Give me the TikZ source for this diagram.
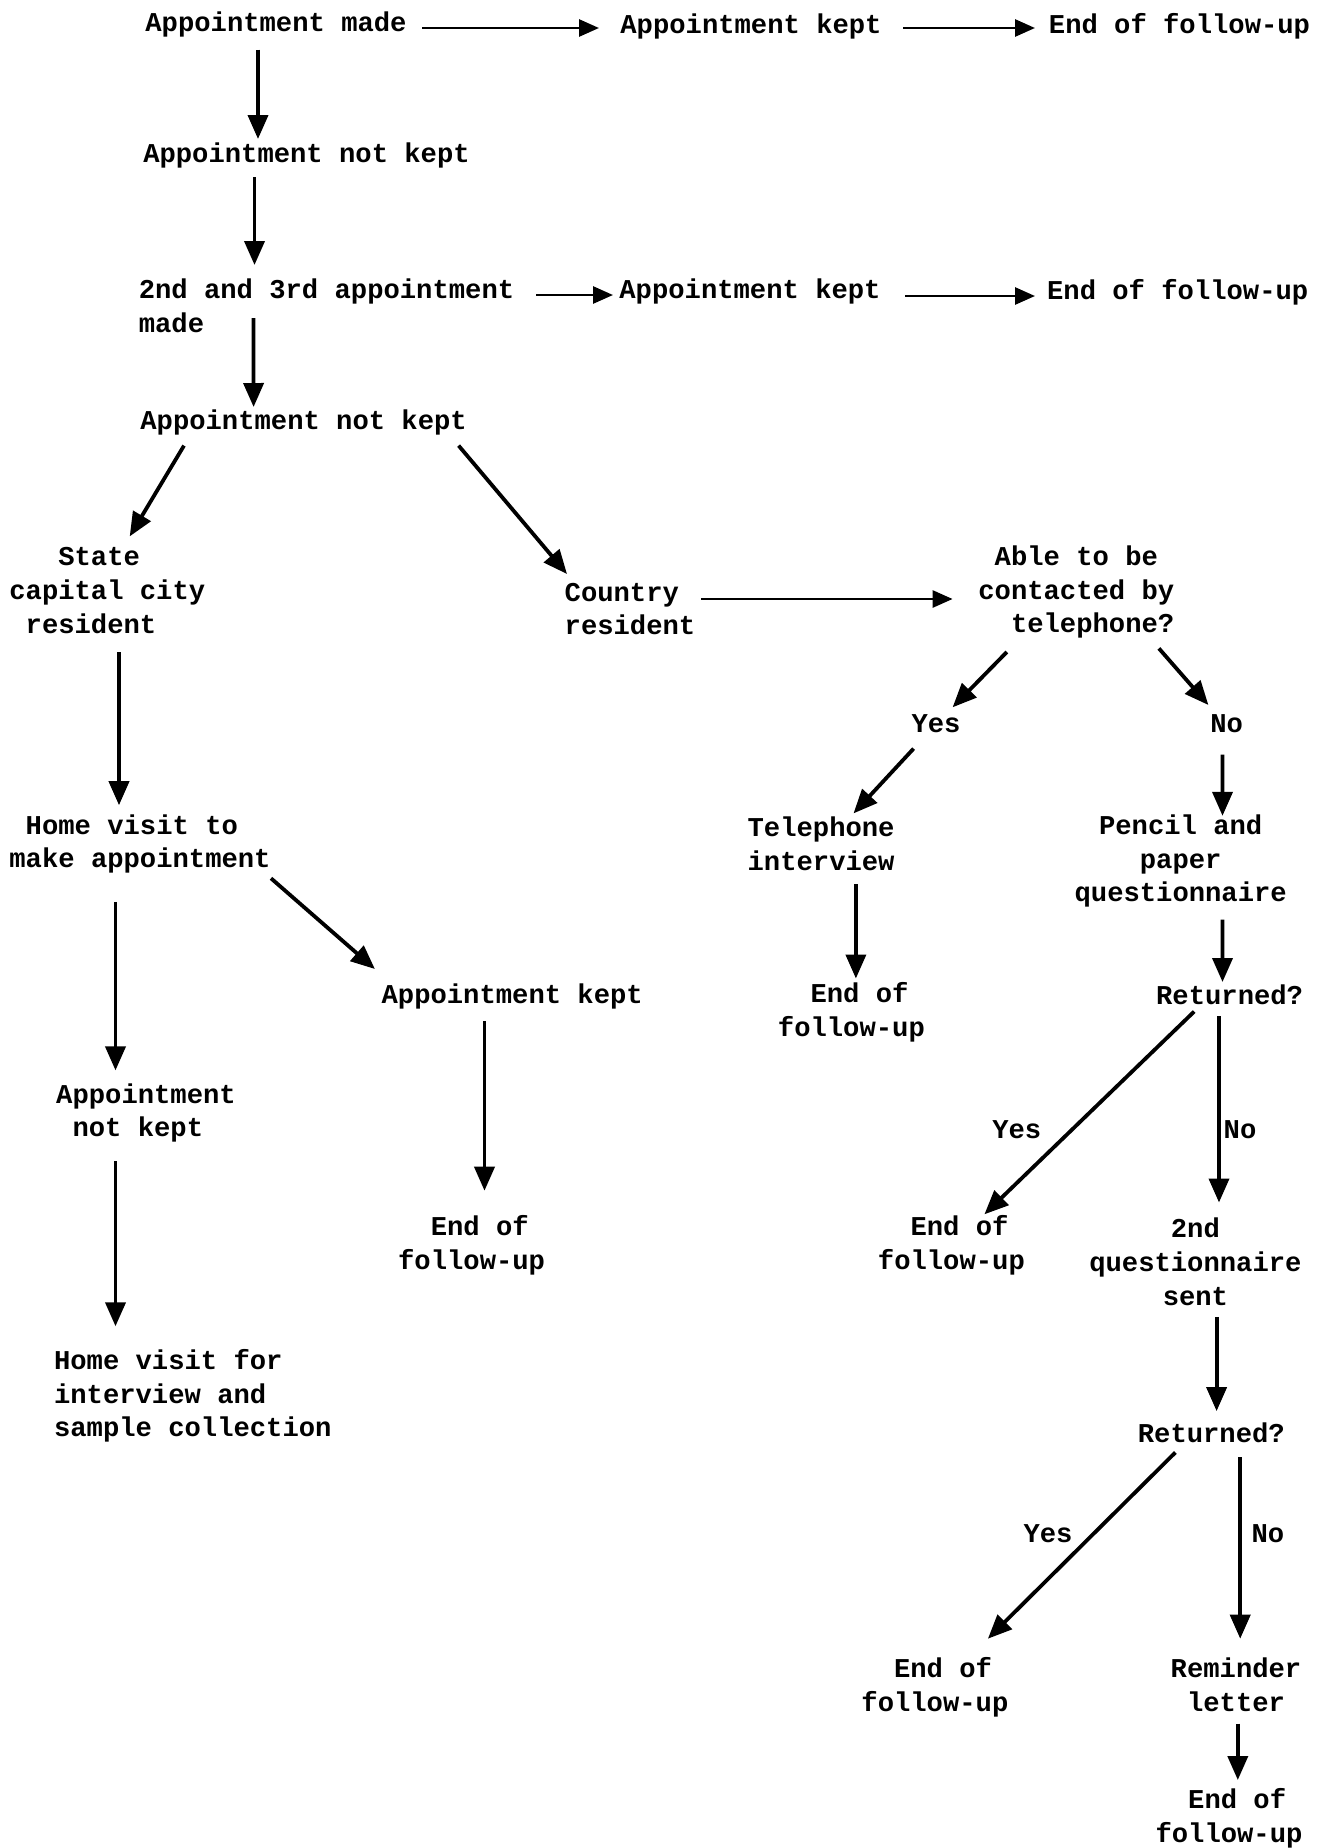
\documentclass[tikz,border=0pt]{standalone}
\usepackage{fontspec}
\setmainfont{Liberation Mono}
\usetikzlibrary{arrows.meta,calc}
\newlength\chw \setlength\chw{8.16pt}
\newcommand\indt[1]{\hspace*{#1\chw}}
\begin{document}
\begin{tikzpicture}[x=0.5pt,y=-0.5pt,
  txt/.style={inner sep=0pt, outer sep=0pt, font=\bfseries\fontsize{13.6}{16.9}\selectfont},
  arr/.style={line width=1.9pt, -{Triangle[length=12pt,width=10pt]}},
  harr/.style={line width=1.4pt, -{Triangle[length=10pt,width=8.5pt]}}]
\useasboundingbox[fill=white] (0,0) rectangle (1331,1848);
% nodes
\node[txt] (am) at (276,24) {Appointment made};
\node[txt] (ak1) at (751,26) {Appointment kept};
\node[txt] (e1) at (1179.5,26) {End of follow-up};
\node[txt] (anm1) at (306.5,155.6) {Appointment not kept};
\node[txt,align=left] (a23) at (326.5,305.5) {2nd and 3rd appointment\\made};
\node[txt] (ak2) at (750,291) {Appointment kept};
\node[txt] (e2) at (1177.7,292) {End of follow-up};
\node[txt] (anm2) at (303.6,422) {Appointment not kept};
\node[txt,align=left] (state) at (107.3,590.6) {\indt{3}State\\capital city\\\indt{1}resident};
\node[txt,align=left] (country) at (630,609) {Country\\resident};
\node[txt,align=left] (able) at (1076.3,592) {\indt{1}Able to be\\contacted by\\\indt{2}telephone?};
\node[txt] (yes1) at (936,724) {Yes};
\node[txt] (no1) at (1226.7,724) {No};
\node[txt,align=center] (tel) at (821.1,844) {Telephone\\interview};
\node[txt,align=center] (pencil) at (1180.7,861) {Pencil and\\paper\\questionnaire};
\node[txt,align=left] (end3) at (851.4,1012) {\indt{2}End of\\follow-up};
\node[txt] (ret1) at (1229.6,995) {Returned?};
\node[txt] (lyes2) at (1016.8,1129.4) {Yes};
\node[txt] (lno2) at (1240,1129.4) {No};
\node[txt,align=left] (end4) at (951.4,1245) {\indt{2}End of\\follow-up};
\node[txt,align=center] (q2) at (1195.4,1262) {2nd\\questionnaire\\sent};
\node[txt] (ret2) at (1211.3,1432.4) {Returned?};
\node[txt] (lyes3) at (1048,1533.8) {Yes};
\node[txt] (lno3) at (1267.9,1533.8) {No};
\node[txt,align=left] (end5) at (934.9,1687) {\indt{2}End of\\follow-up};
\node[txt,align=center] (rem) at (1236,1685) {Reminder\\letter};
\node[txt,align=left] (end6) at (1229,1818) {\indt{2}End of\\follow-up};
\node[txt,align=left] (hv1) at (140,844) {\indt{1}Home visit to\\make appointment};
\node[txt,align=left] (anm3) at (146,1113) {Appointment\\\indt{1}not kept};
\node[txt,align=left] (hv2) at (192.8,1395.8) {Home visit for\\interview and\\sample collection};
\node[txt] (ak3) at (512.2,996.2) {Appointment kept};
\node[txt,align=left] (end7) at (471.6,1245) {\indt{2}End of\\follow-up};
% connectors
\draw[harr] ($(am)+(146,4)$) -- ($(ak1)+(-152,2)$);
\draw[harr] ($(ak1)+(152,2)$) -- ($(e1)+(-144.5,2)$);
\draw[arr] ($(am)+(-18,25.5)$) -- ($(anm1)+(-48.5,-16.6)$);
\draw[arr] ($(anm1)+(-52,21.4)$) -- ($(a23)+(-72,-40.5)$);
\draw[harr] ($(a23)+(209.5,-10.5)$) -- ($(ak2)+(-137,4)$);
\draw[harr] ($(ak2)+(155.4,5)$) -- ($(e2)+(-142.7,4)$);
\draw[arr] ($(a23)+(-73,12.5)$) -- ($(anm2)+(-50,-15)$);
\draw[arr] ($(anm2)+(-119.6,23.6)$) -- ($(state)+(22.4,-54.2)$);
\draw[arr] ($(anm2)+(155,23.6)$) -- ($(country)+(-63,-35)$);
\draw[harr] ($(country)+(71.4,-10)$) -- ($(able)+(-123.7,7)$);
\draw[arr] ($(able)+(-69.5,60)$) -- ($(yes1)+(16.6,-16.7)$);
\draw[arr] ($(able)+(82.6,56.4)$) -- ($(no1)+(-18.3,-19)$);
\draw[arr] ($(yes1)+(-22.4,24.6)$) -- ($(tel)+(32.4,-30.6)$);
\draw[arr] ($(no1)+(-4.2,30.5)$) -- ($(pencil)+(41.8,-45.2)$);
\draw[arr] ($(tel)+(34.8,40)$) -- ($(end3)+(4.5,-33.5)$);
\draw[arr] ($(pencil)+(41.8,58.5)$) -- ($(ret1)+(-7.1,-13)$);
\draw[arr] ($(ret1)+(-35.4,16.5)$) -- ($(end4)+(33,-30.7)$);
\draw[arr] ($(ret1)+(-10.6,21)$) -- ($(q2)+(23.6,-59.5)$);
\draw[arr] ($(q2)+(21.2,54.8)$) -- ($(ret2)+(5.3,-21.3)$);
\draw[arr] ($(ret2)+(-35.9,20)$) -- ($(end5)+(53,-48.3)$);
\draw[arr] ($(ret2)+(28.9,24.6)$) -- ($(rem)+(4.2,-46.3)$);
\draw[arr] ($(rem)+(1.8,38.6)$) -- ($(end6)+(8.8,-38)$);
\draw[arr] ($(state)+(11.7,61.4)$) -- ($(hv1)+(-21,-38.8)$);
\draw[arr] ($(hv1)+(-24.5,57.9)$) -- ($(anm3)+(-30.5,-42.6)$);
\draw[arr] ($(anm3)+(-30.5,48.2)$) -- ($(hv2)+(-77.3,-69.5)$);
\draw[arr] ($(hv1)+(131,34.3)$) -- ($(ak3)+(-137.3,-27.2)$);
\draw[arr] ($(ak3)+(-27.7,24.8)$) -- ($(end7)+(12.9,-54.3)$);
\end{tikzpicture}
\end{document}
